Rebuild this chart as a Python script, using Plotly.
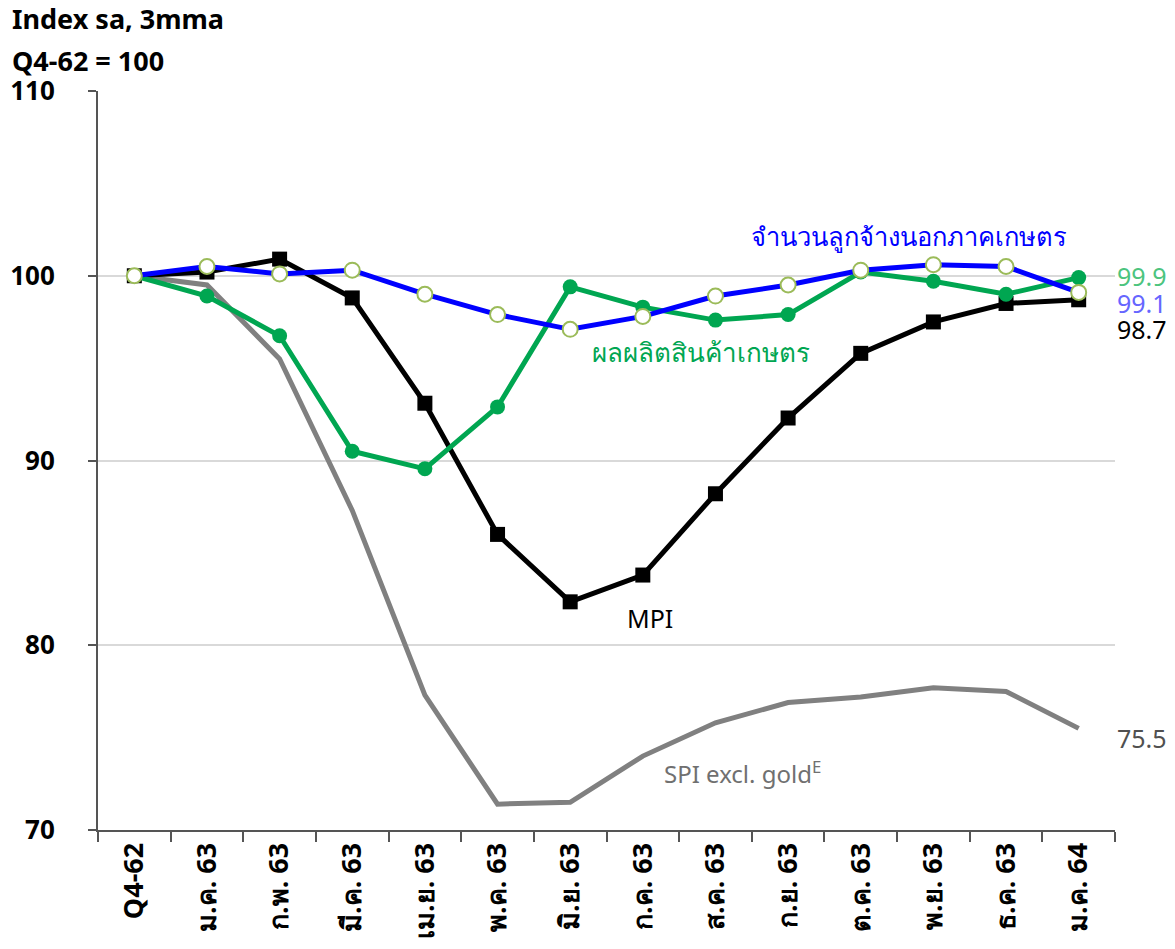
import plotly.graph_objects as go

months = ["Q4-62", "ม.ค. 63", "ก.พ. 63", "มี.ค. 63", "เม.ย. 63", "พ.ค. 63", "มิ.ย. 63",
          "ก.ค. 63", "ส.ค. 63", "ก.ย. 63", "ต.ค. 63", "พ.ย. 63", "ธ.ค. 63", "ม.ค. 64"]

spi = [100, 99.5, 95.5, 87.3, 77.3, 71.4, 71.5, 74.0, 75.8, 76.9, 77.2, 77.7, 77.5, 75.5]
mpi = [100, 100.2, 100.9, 98.8, 93.1, 86.0, 82.35, 83.8, 88.2, 92.3, 95.8, 97.5, 98.5, 98.7]
agri = [100, 98.9, 96.75, 90.5, 89.55, 92.9, 99.4, 98.3, 97.6, 97.9, 100.2, 99.7, 99.0, 99.9]
employ = [100, 100.5, 100.1, 100.3, 99.0, 97.9, 97.1, 97.8, 98.9, 99.5, 100.3, 100.6, 100.5, 99.1]

FONT = "Tahoma, 'Noto Sans', sans-serif"
GRAY = "#808080"
GREEN = "#00A651"
BLUE = "#0000FF"

fig = go.Figure()
fig.add_trace(go.Scatter(x=months, y=spi, mode="lines", line=dict(color=GRAY, width=5)))
fig.add_trace(go.Scatter(x=months, y=mpi, mode="lines+markers", line=dict(color="black", width=5),
                         marker=dict(symbol="square", size=15, color="black")))
fig.add_trace(go.Scatter(x=months, y=agri, mode="lines+markers", line=dict(color=GREEN, width=5),
                         marker=dict(symbol="circle", size=15, color=GREEN)))
fig.add_trace(go.Scatter(x=months, y=employ, mode="lines+markers", line=dict(color=BLUE, width=5),
                         marker=dict(symbol="circle", size=15, color="white",
                                     line=dict(color="#9BBB59", width=2))))

ann = [
    dict(x=10.66, y=102.17, text="จำนวนลูกจ้างนอกภาคเกษตร", color=BLUE, xanchor="center", size=25.5),
    dict(x=7.8, y=95.9, text="ผลผลิตสินค้าเกษตร", color=GREEN, xanchor="center", size=26),
    dict(x=7.1, y=81.5, text="MPI", color="black", xanchor="center", size=25),
    dict(x=8.37, y=73.1, text="SPI excl. gold<sup>E</sup>", color="#707070", xanchor="center", size=24),
]
for a in ann:
    fig.add_annotation(x=a["x"], y=a["y"], text=a["text"], showarrow=False, xanchor=a["xanchor"],
                       font=dict(family=FONT, size=a["size"], color=a["color"]))

# end-of-line value labels, just right of the plot area
end_labels = [
    (100.0, "99.9", "#4CC47E"),
    (98.55, "99.1", "#6666FF"),
    (97.1, "98.7", "black"),
    (75.0, "75.5", "#505050"),
]
for yv, txt, col in end_labels:
    fig.add_annotation(x=1.0, xref="paper", y=yv, yref="y", xanchor="left", xshift=0, text=txt,
                       showarrow=False, font=dict(family=FONT, size=25, color=col))

fig.add_annotation(x=0, y=1.0, xref="paper", yref="paper", xanchor="left", yanchor="middle",
                   xshift=-88, yshift=73, showarrow=False, text="<b>Index sa, 3mma</b>",
                   font=dict(family=FONT, size=27, color="black"))
fig.add_annotation(x=0, y=1.0, xref="paper", yref="paper", xanchor="left", yanchor="middle",
                   xshift=-88, yshift=31, showarrow=False, text="<b>Q4-62 = 100</b>",
                   font=dict(family=FONT, size=27, color="black"))

# page body has an 8px margin all round, so size the figure to fit the window without scrollbars
fig.update_layout(
    width=1159, height=933, showlegend=False,
    plot_bgcolor="white", paper_bgcolor="white",
    margin=dict(l=90, r=52, t=83, b=111),
    font=dict(family=FONT, size=22, color="black"),
)
fig.update_xaxes(type="category", range=[-0.5, 13.5], showline=True, linecolor="#555555", linewidth=2,
                 ticks="outside", tickson="boundaries", ticklen=10, tickcolor="#555555", tickwidth=2,
                 tickangle=-90, showgrid=False, automargin=False,
                 tickfont=dict(family=FONT, size=27, color="black", weight="bold"))
fig.update_yaxes(range=[70, 110], dtick=10, showline=True, linecolor="#555555", linewidth=2,
                 ticks="outside", ticklen=8, tickcolor="#555555", tickwidth=2,
                 showgrid=True, gridcolor="#D9D9D9", gridwidth=2, zeroline=False, automargin=False,
                 ticklabelstandoff=28, tickfont=dict(family=FONT, size=26, color="black", weight="bold"))

fig.write_html("out.html")
